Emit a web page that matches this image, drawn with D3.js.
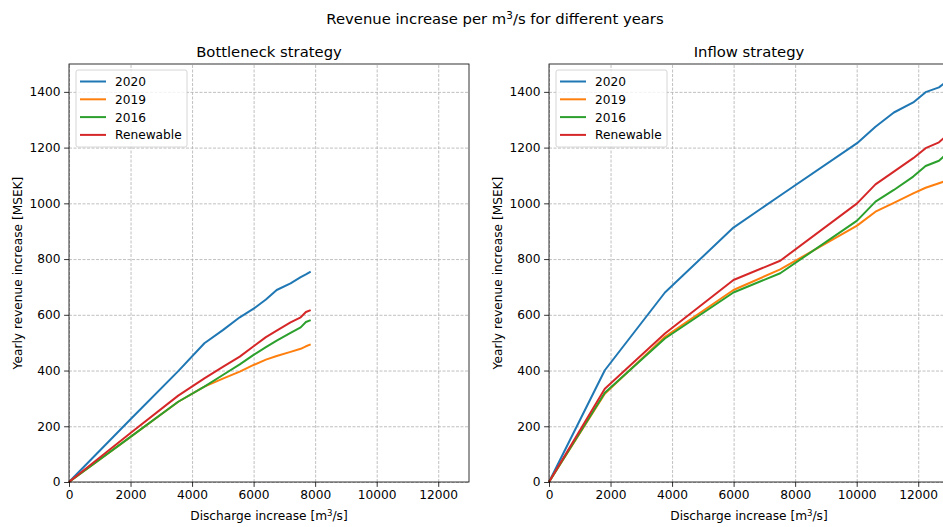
<!DOCTYPE html>
<html lang="en">
<head>
<meta charset="UTF-8"/>
<title>Revenue increase per m3/s</title>
<script src="https://d3js.org/d3.v7.min.js"></script>
<style>
    body { margin: 0; background: #ffffff; }
    svg text { font-family: "DejaVu Sans", sans-serif; fill: #000; }
    .grid line { stroke: #b0b0b0; stroke-width: 0.8; stroke-dasharray: 3,1.5; }
    .grid path { display: none; }
    .axis path, .axis line { stroke: #000; stroke-width: 0.8; }
    .axis text { font-size: 12.2px; }
</style>
</head>
<body>
<div id="chart"></div>
<script>
    // series names and colours (matplotlib tab10)
    var seriesNames = ["2020", "2019", "2016", "Renewable"];
    var colors = ["#1f77b4", "#ff7f0e", "#2ca02c", "#d62728"];

    // Bottleneck strategy - discharge points and revenue per series
    var bottleneckX = [0, 2000, 3550, 4400, 5000, 5550, 6000, 6400, 6750, 7200, 7530, 7700, 7855];
    var bottleneck2020 = [0, 225, 398, 498, 545, 591, 622, 655, 689, 713, 735, 745, 755];
    var bottleneck2019 = [0, 162, 288, 342, 371, 396, 420, 439, 452, 467, 478, 487, 494];
    var bottleneck2016 = [0, 162, 288, 342, 384, 422, 456, 484, 507, 535, 555, 574, 581];
    var bottleneckRen  = [0, 176, 310, 372, 413, 450, 487, 520, 543, 573, 591, 610, 617];

    // Inflow strategy
    var inflowX = [0, 1814, 3768, 5995, 7515, 10013, 10610, 11208, 11838, 12240, 12674, 12826];
    var inflow2020 = [0, 401, 680, 913, 1028, 1216, 1275, 1326, 1362, 1399, 1416, 1429];
    var inflow2019 = [0, 317, 521, 689, 763, 920, 970, 1002, 1036, 1056, 1072, 1078];
    var inflow2016 = [0, 320, 515, 680, 749, 938, 1006, 1048, 1096, 1134, 1153, 1168];
    var inflowRen  = [0, 335, 533, 725, 794, 1000, 1068, 1114, 1162, 1198, 1219, 1234];

    var xTicks = [0, 2000, 4000, 6000, 8000, 10000, 12000];
    var yTicks = [0, 200, 400, 600, 800, 1000, 1200, 1400];

    var w = 943;
    var h = 527;
    var plotW = 400;
    var plotH = 418;
    var plotTop = 64;

    var svg = d3.select("#chart")
                .append("svg")
                .attr("width", w)
                .attr("height", h);

    // overall title
    var sup = svg.append("text")
        .attr("x", 495)
        .attr("y", 24)
        .attr("text-anchor", "middle")
        .attr("font-size", "14.8px");
    sup.append("tspan").text("Revenue increase per m");
    sup.append("tspan").attr("dy", -5.5).attr("font-size", "10.4px").text("3");
    sup.append("tspan").attr("dy", 5.5).text("/s for different years");

    function drawPanel(left, title, xs, ys) {
        var xScale = d3.scaleLinear().domain([0, 13000]).range([left, left + plotW]);
        var yScale = d3.scaleLinear().domain([0, 1500]).range([plotTop + plotH, plotTop]);

        // grid
        svg.append("g")
            .attr("class", "grid")
            .attr("transform", "translate(0," + (plotTop + plotH) + ")")
            .call(d3.axisBottom(xScale).tickValues(xTicks).tickSize(-plotH).tickFormat(""));
        svg.append("g")
            .attr("class", "grid")
            .attr("transform", "translate(" + left + ",0)")
            .call(d3.axisLeft(yScale).tickValues(yTicks).tickSize(-plotW).tickFormat(""));

        // lines
        var line = d3.line()
            .x(function(d) { return xScale(d[0]); })
            .y(function(d) { return yScale(d[1]); });
        ys.forEach(function(vals, i) {
            var pts = xs.map(function(x, j) { return [x, vals[j]]; });
            svg.append("path")
                .datum(pts)
                .attr("d", line)
                .attr("fill", "none")
                .attr("stroke", colors[i])
                .attr("stroke-width", 2)
                .attr("stroke-linejoin", "round");
        });

        // frame
        svg.append("rect")
            .attr("x", left)
            .attr("y", plotTop)
            .attr("width", plotW)
            .attr("height", plotH)
            .attr("fill", "none")
            .attr("stroke", "#000")
            .attr("stroke-width", 0.8);

        // axes
        svg.append("g")
            .attr("class", "axis")
            .attr("transform", "translate(0," + (plotTop + plotH) + ")")
            .call(d3.axisBottom(xScale).tickValues(xTicks).tickSize(4.9).tickPadding(3.5).tickFormat(d3.format("d")))
            .select(".domain").remove();
        svg.append("g")
            .attr("class", "axis")
            .attr("transform", "translate(" + left + ",0)")
            .call(d3.axisLeft(yScale).tickValues(yTicks).tickSize(4.9).tickPadding(3.5).tickFormat(d3.format("d")))
            .select(".domain").remove();

        // panel title
        svg.append("text")
            .attr("x", left + plotW / 2)
            .attr("y", 57)
            .attr("text-anchor", "middle")
            .attr("font-size", "14.8px")
            .text(title);

        // x label
        var xl = svg.append("text")
            .attr("x", left + plotW / 2)
            .attr("y", 520)
            .attr("text-anchor", "middle")
            .attr("font-size", "12.2px");
        xl.append("tspan").text("Discharge increase [m");
        xl.append("tspan").attr("dy", -4.5).attr("font-size", "8.6px").text("3");
        xl.append("tspan").attr("dy", 4.5).text("/s]");

        // y label
        svg.append("text")
            .attr("transform", "translate(" + (left - 47) + "," + (plotTop + plotH / 2) + ") rotate(-90)")
            .attr("text-anchor", "middle")
            .attr("font-size", "12.2px")
            .text("Yearly revenue increase [MSEK]");

        // legend
        var lg = svg.append("g").attr("transform", "translate(" + (left + 7) + "," + (plotTop + 6) + ")");
        lg.append("rect")
            .attr("width", 111)
            .attr("height", 77)
            .attr("rx", 2)
            .attr("fill", "#fff")
            .attr("fill-opacity", 0.8)
            .attr("stroke", "#cccccc")
            .attr("stroke-width", 0.8);
        seriesNames.forEach(function(name, i) {
            var yy = 11.5 + i * 17.8;
            lg.append("line")
                .attr("x1", 4).attr("x2", 30)
                .attr("y1", yy).attr("y2", yy)
                .attr("stroke", colors[i])
                .attr("stroke-width", 2);
            lg.append("text")
                .attr("x", 39)
                .attr("y", yy + 4.4)
                .attr("font-size", "12.2px")
                .text(name);
        });
    }

    drawPanel(69, "Bottleneck strategy", bottleneckX,
        [bottleneck2020, bottleneck2019, bottleneck2016, bottleneckRen]);
    drawPanel(549, "Inflow strategy", inflowX,
        [inflow2020, inflow2019, inflow2016, inflowRen]);
</script>
</body>
</html>
